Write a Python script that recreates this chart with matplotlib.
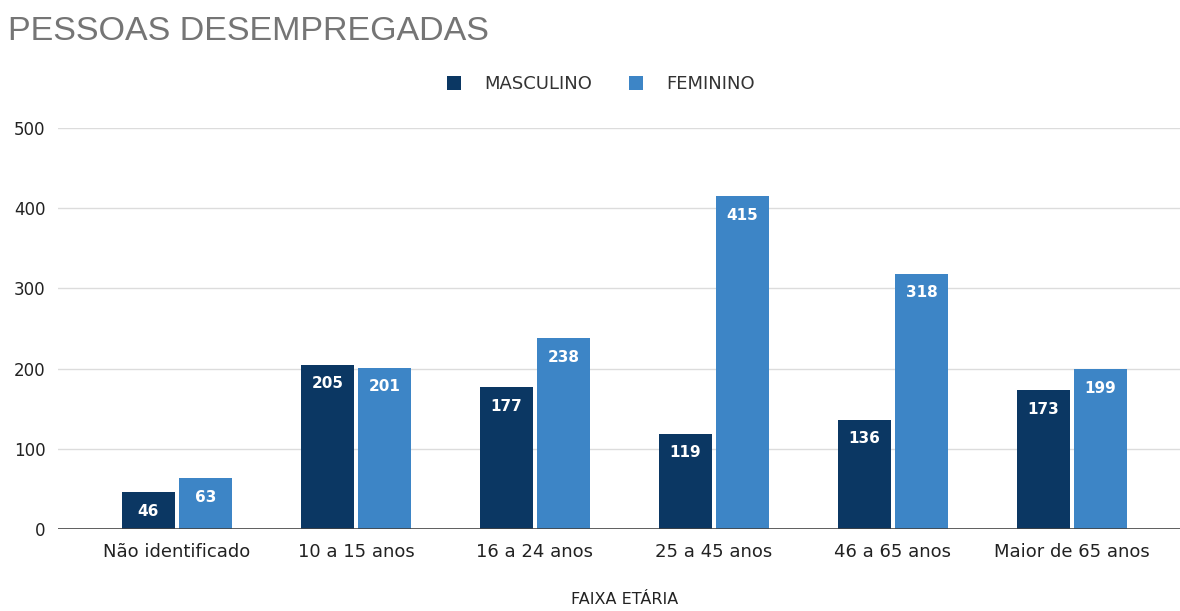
import matplotlib
matplotlib.use("Agg")
import matplotlib.pyplot as plt
import numpy as np

categories = ["Não identificado", "10 a 15 anos", "16 a 24 anos", "25 a 45 anos", "46 a 65 anos", "Maior de 65 anos"]
masculino = [46, 205, 177, 119, 136, 173]
feminino = [63, 201, 238, 415, 318, 199]
series_names = ["MASCULINO", "FEMININO"]
yticks = [0, 100, 200, 300, 400, 500]

c_m = "#0b3763"
c_f = "#3d85c6"

plt.rcParams['font.family'] = ['DejaVu Sans']

fig = plt.figure(figsize=(11.8, 6.11), dpi=100)
ax = fig.add_axes([58/1180, 1-529/611, (1180-58)/1180, (529-128)/611])

x = np.arange(len(categories))
w = 0.30
off = 0.16
b1 = ax.bar(x - off, masculino, w, color=c_m, label=series_names[0], zorder=3)
b2 = ax.bar(x + off, feminino, w, color=c_f, label=series_names[1], zorder=3)

for bars, vals in ((b1, masculino), (b2, feminino)):
    for r, v in zip(bars, vals):
        ax.annotate(str(v), (r.get_x() + r.get_width()/2, v), xytext=(0, -19),
                    textcoords="offset pixels", ha="center", va="center",
                    color="white", fontsize=11, fontweight="bold", zorder=4)

ax.set_xlim((58-177)/179, (1180-177)/179)
ax.set_ylim(0, 500)
ax.set_yticks(yticks)
ax.set_xticks(x)
ax.set_xticklabels(categories, fontsize=13, color="#222222")
ax.tick_params(axis="y", labelsize=12, labelcolor="#222222", length=0, pad=9)
ax.tick_params(axis="x", length=0, pad=10)
ax.grid(axis="y", color="#dcdcdc", linewidth=1, zorder=0)
ax.axhline(0, color="#444444", linewidth=1.2, zorder=5)
for s in ax.spines.values():
    s.set_visible(False)

fig.text(8/1180, 1-31/611, "PESSOAS DESEMPREGADAS", fontsize=24.5, color="#757575",
         ha="left", va="center", family="Liberation Sans")
fig.text(625/1180, 1-600/611, "FAIXA ETÁRIA", fontsize=11.5, color="#222222",
         ha="center", va="center")

leg = fig.legend(handles=[b1, b2], labels=series_names, loc="center",
                 bbox_to_anchor=(601/1180, 1-84/611), ncol=2, frameon=False,
                 fontsize=13, handlelength=0.8, handleheight=0.8,
                 columnspacing=2.0, handletextpad=1.3)
for t in leg.get_texts():
    t.set_color("#333333")

fig.savefig("out.png", dpi=100, facecolor="white")
